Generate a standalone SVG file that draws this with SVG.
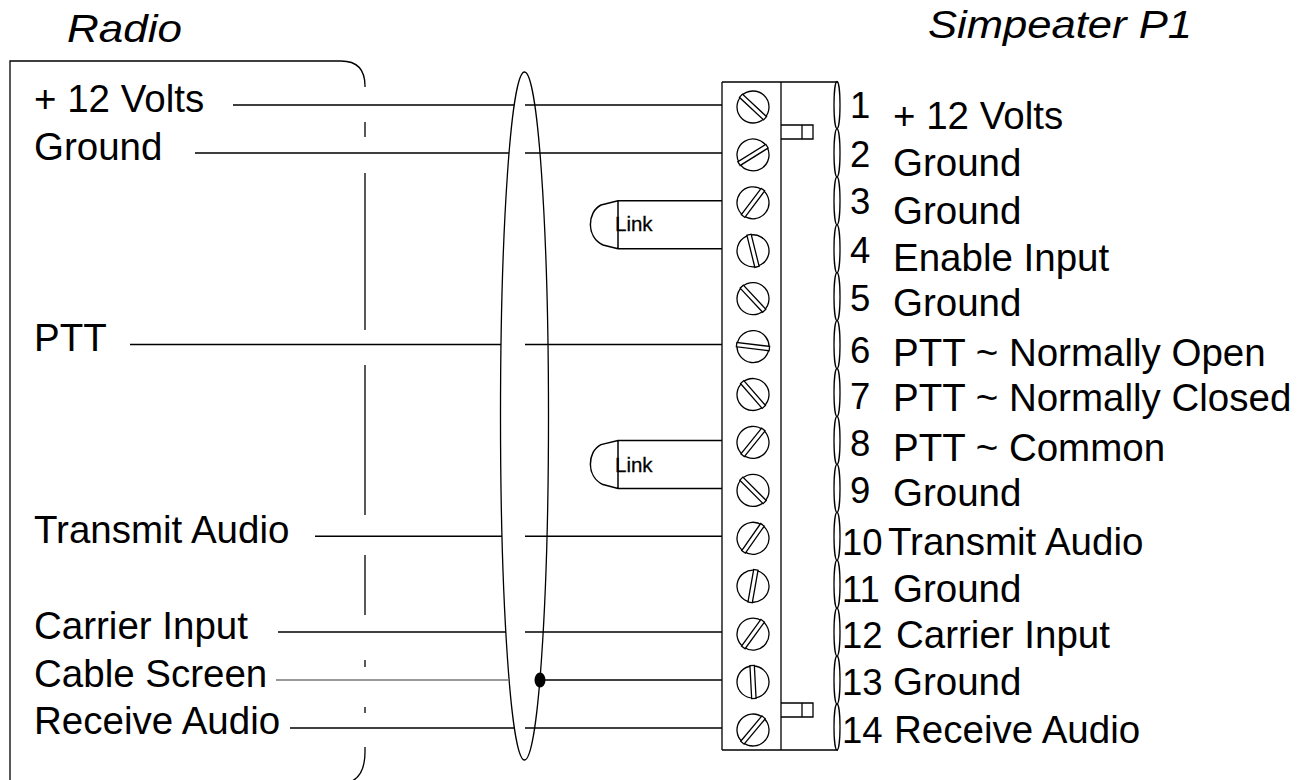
<svg xmlns="http://www.w3.org/2000/svg" width="1306" height="780" viewBox="0 0 1306 780">
<defs>
<style>
text{font-family:"Liberation Sans",Arial,sans-serif;fill:#000}
.lbl{font-size:38.5px}
.num{font-size:36.5px}
.ttl{font-size:38px;font-style:italic}
.lnk{font-size:20.5px;stroke:#000;stroke-width:0.3}
.w{stroke:#000;stroke-width:1.5;fill:none}
.o{stroke:#000;stroke-width:1.3;fill:none}
.sc{stroke:#000;stroke-width:1.3;fill:#fff}
</style>
<g id="screw"><circle cx="0" cy="0" r="16" class="sc"/><rect x="-16.5" y="-2.2" width="33" height="4.4" class="sc"/></g>
</defs>
<rect width="1306" height="780" fill="#fff"/>
<g id="titles">
<text class="ttl" x="67" y="42" textLength="115" lengthAdjust="spacingAndGlyphs">Radio</text>
<text class="ttl" x="928" y="38" textLength="264" lengthAdjust="spacingAndGlyphs">Simpeater P1</text>
</g>
<g id="radio">
<path class="o" d="M10,782 V61 H341 Q365,61 365,86"/>
<path class="o" d="M365,86 V87 M365,122 V137 M365,173 V330 M365,365 V515 M365,555 V615 M365,660 V667 M365,707 V713 M365,747 V752 Q365,776 350,782"/>
<text class="lbl" x="34" y="112">+ 12 Volts</text>
<text class="lbl" x="34" y="160">Ground</text>
<text class="lbl" x="34" y="351">PTT</text>
<text class="lbl" x="34" y="543">Transmit Audio</text>
<text class="lbl" x="34" y="639">Carrier Input</text>
<text class="lbl" x="34" y="687">Cable Screen</text>
<text class="lbl" x="34" y="734">Receive Audio</text>
</g>
<g id="cable">
<ellipse cx="524.5" cy="416" rx="24" ry="344" class="o"/>
<ellipse cx="540" cy="680" rx="5.5" ry="7.5" fill="#000"/>
</g>
<g id="connectors">
<path class="w" d="M233,105 H514 M525,105 H722"/>
<path class="w" d="M195,152.9 H509 M525,152.9 H722"/>
<path class="w" d="M130,344.6 H501 M525,344.6 H722"/>
<path class="w" d="M315,536.3 H502 M525,536.3 H722"/>
<path class="w" d="M278,632.1 H506 M525,632.1 H722"/>
<path d="M276,680 H509" stroke="#777" stroke-width="1.5" fill="none"/>
<path class="w" d="M540,680 H722"/>
<path class="w" d="M290,728 H514 M525,728 H722"/>
</g>
<g id="link1">
<path class="w" d="M722,200.8 H618 L601,205 C587,212 586,237 603,245 L618,248.8 H722 M618,200.8 V248.8"/>
<text class="lnk" x="615" y="231">Link</text>
</g>
<g id="link2">
<path class="w" d="M722,440.4 H618 L601,444.6 C587,451.6 586,476.6 603,484.6 L618,488.4 H722 M618,440.4 V488.4"/>
<text class="lnk" x="615" y="472">Link</text>
</g>
<g id="terminal-block">
<path class="o" d="M722,82 H838 M722,750 H838 M722,82 V750 M781,82 V750"/>
<path class="o" d="M781,125 H813 V139 H781 M802,125 V139"/>
<path class="o" d="M781,703 H813 V717 H781 M802,703 V717"/>
<g class="o">
<ellipse cx="837" cy="105" rx="3" ry="23.5"/>
<ellipse cx="837" cy="152.9" rx="3" ry="24"/>
<ellipse cx="837" cy="200.8" rx="3" ry="24"/>
<ellipse cx="837" cy="248.8" rx="3" ry="24"/>
<ellipse cx="837" cy="296.7" rx="3" ry="24"/>
<ellipse cx="837" cy="344.6" rx="3" ry="24"/>
<ellipse cx="837" cy="392.5" rx="3" ry="24"/>
<ellipse cx="837" cy="440.4" rx="3" ry="24"/>
<ellipse cx="837" cy="488.4" rx="3" ry="24"/>
<ellipse cx="837" cy="536.3" rx="3" ry="24"/>
<ellipse cx="837" cy="584.2" rx="3" ry="24"/>
<ellipse cx="837" cy="632.1" rx="3" ry="24"/>
<ellipse cx="837" cy="680" rx="3" ry="24"/>
<ellipse cx="837" cy="727" rx="3" ry="23"/>
</g>
<use href="#screw" transform="translate(753,107) rotate(43)"/>
<use href="#screw" transform="translate(753,154.9) rotate(-32)"/>
<use href="#screw" transform="translate(753,202.8) rotate(-53)"/>
<use href="#screw" transform="translate(753,250.8) rotate(76)"/>
<use href="#screw" transform="translate(753,298.7) rotate(47)"/>
<use href="#screw" transform="translate(753,346.6) rotate(7)"/>
<use href="#screw" transform="translate(753,394.5) rotate(49)"/>
<use href="#screw" transform="translate(753,442.4) rotate(-51)"/>
<use href="#screw" transform="translate(753,490.4) rotate(45)"/>
<use href="#screw" transform="translate(753,538.3) rotate(-55)"/>
<use href="#screw" transform="translate(753,586.2) rotate(-80)"/>
<use href="#screw" transform="translate(753,634.1) rotate(-54)"/>
<use href="#screw" transform="translate(753,682) rotate(87)"/>
<use href="#screw" transform="translate(753,730) rotate(-50)"/>
</g>
<g id="pin-labels">
<text class="num" x="850" y="118">1</text><text class="lbl" x="893" y="129">+ 12 Volts</text>
<text class="num" x="850" y="167">2</text><text class="lbl" x="893" y="176">Ground</text>
<text class="num" x="850" y="214">3</text><text class="lbl" x="893" y="224">Ground</text>
<text class="num" x="850" y="263">4</text><text class="lbl" x="893" y="271">Enable Input</text>
<text class="num" x="850" y="311">5</text><text class="lbl" x="893" y="316">Ground</text>
<text class="num" x="850" y="363">6</text><text class="lbl" x="893" y="366">PTT ~ Normally Open</text>
<text class="num" x="850" y="409">7</text><text class="lbl" x="893" y="411">PTT ~ Normally Closed</text>
<text class="num" x="850" y="456">8</text><text class="lbl" x="893" y="461">PTT ~ Common</text>
<text class="num" x="850" y="503">9</text><text class="lbl" x="893" y="506">Ground</text>
<text class="num" x="842" y="555">10</text><text class="lbl" x="888" y="555">Transmit Audio</text>
<text class="num" x="842" y="602">11</text><text class="lbl" x="893" y="602">Ground</text>
<text class="num" x="842" y="648">12</text><text class="lbl" x="896" y="648">Carrier Input</text>
<text class="num" x="842" y="695">13</text><text class="lbl" x="893" y="695">Ground</text>
<text class="num" x="842" y="743">14</text><text class="lbl" x="894" y="743">Receive Audio</text>
</g>
</svg>
